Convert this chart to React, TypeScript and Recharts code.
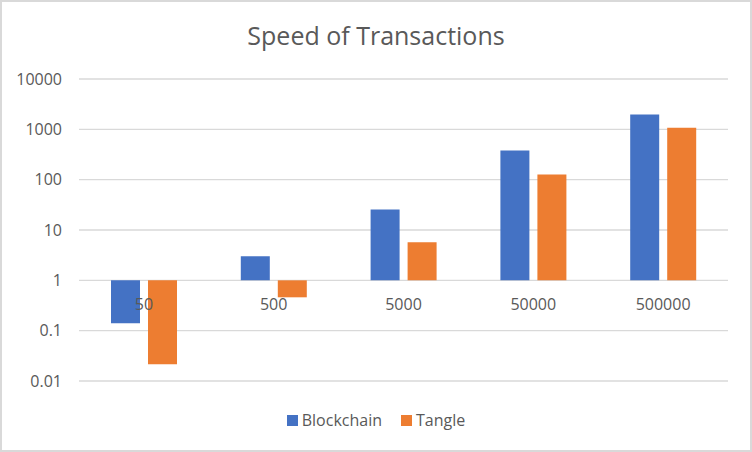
import { Bar, BarChart, CartesianGrid, Legend, XAxis, YAxis } from 'recharts'

const categories = ['50', '500', '5000', '50000', '500000']
const blockchain = [0.14, 3, 25.4, 378, 1960]
const tangle = [0.0214, 0.46, 5.7, 126, 1080]
const yTickValues = [0.01, 0.1, 1, 10, 100, 1000, 10000]

const WIDTH = 752
const HEIGHT = 452
const PLOT_TOP = 79
const PLOT_BOTTOM = 381
const TEXT = '#595959'

// bars start at 1, so plot them on log10 values with a linear axis
const data = categories.map((category, i) => ({
  category,
  blockchain: Math.log10(blockchain[i]),
  tangle: Math.log10(tangle[i]),
}))
const yTicks = yTickValues.map((v) => Math.log10(v))
const yMin = yTicks[0]
const yMax = yTicks[yTicks.length - 1]
const zeroY = PLOT_TOP + ((PLOT_BOTTOM - PLOT_TOP) * yMax) / (yMax - yMin)

function formatTick(v: number) {
  const hit = yTickValues.find((t) => Math.abs(Math.log10(t) - v) < 1e-9)
  return hit === undefined ? '' : String(hit)
}

// Excel draws category labels next to the axis crossing at 1
function CategoryTick({ x, payload }: any) {
  return (
    <text x={x} y={zeroY + 30} textAnchor="middle" fill={TEXT} fontSize={16}>
      {payload.value}
    </text>
  )
}

function LegendContent({ payload }: any) {
  return (
    <div style={{ display: 'flex', justifyContent: 'center', gap: 19, fontSize: 16, color: TEXT }}>
      {(payload || []).map((item: any) => (
        <div key={item.value} style={{ display: 'flex', alignItems: 'center' }}>
          <span style={{ width: 11, height: 11, background: item.color, marginRight: 4 }} />
          <span>{item.value}</span>
        </div>
      ))}
    </div>
  )
}

export default function App() {
  return (
    <div
      style={{
        position: 'absolute',
        left: 0,
        top: 0,
        width: WIDTH,
        height: HEIGHT,
        background: '#fff',
        fontFamily: '"Open Sans", sans-serif',
      }}
    >
      <div
        style={{
          position: 'absolute',
          top: 18,
          left: 0,
          width: WIDTH,
          textAlign: 'center',
          fontSize: 25,
          color: TEXT,
        }}
      >
        Speed of Transactions
      </div>
      <BarChart
        width={WIDTH}
        height={HEIGHT}
        data={data}
        margin={{ top: PLOT_TOP, right: 24, bottom: HEIGHT - PLOT_BOTTOM - 30, left: 0 }}
        barSize={29}
        barGap={8}
      >
        <CartesianGrid vertical={false} stroke="#D9D9D9" strokeWidth={1.3} />
        <YAxis
          type="number"
          domain={[yMin, yMax]}
          ticks={yTicks}
          tickFormatter={formatTick}
          width={79}
          axisLine={false}
          tickLine={false}
          tickMargin={11}
          tick={{ fill: TEXT, fontSize: 16 }}
          interval={0}
        />
        <Bar dataKey="blockchain" name="Blockchain" fill="#4472C4" isAnimationActive={false} />
        <Bar dataKey="tangle" name="Tangle" fill="#ED7D31" isAnimationActive={false} />
        <XAxis
          dataKey="category"
          height={30}
          axisLine={false}
          tickLine={false}
          tick={<CategoryTick />}
          interval={0}
        />
        <Legend
          verticalAlign="middle"
          align="center"
          layout="horizontal"
          content={<LegendContent />}
          wrapperStyle={{ top: 409, left: 0, width: WIDTH }}
        />
      </BarChart>
      <div
        style={{
          position: 'absolute',
          left: 0,
          top: 0,
          width: WIDTH,
          height: HEIGHT,
          boxSizing: 'border-box',
          border: '2px solid #D9D9D9',
          pointerEvents: 'none',
        }}
      />
    </div>
  )
}
